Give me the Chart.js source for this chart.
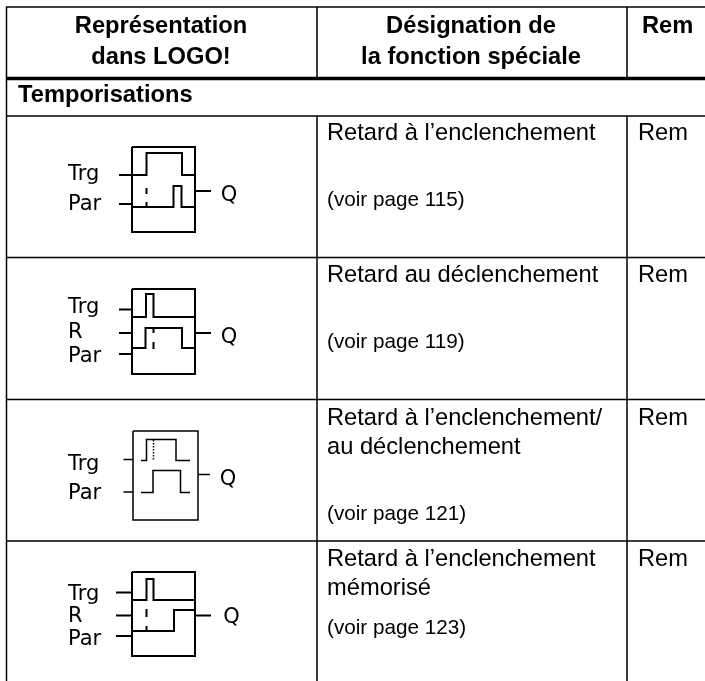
<!DOCTYPE html>
<html>
<head>
<meta charset="utf-8">
<style>
  html, body { margin: 0; padding: 0; background: #fff; }
  canvas { display: block; }
</style>
<script src="https://cdn.jsdelivr.net/npm/chart.js@4/dist/chart.umd.min.js"></script>
</head>
<body>
<canvas id="chart" width="705" height="681"></canvas>
<script>
// table texts
const headerLabels = ['Représentation', 'dans LOGO!', 'Désignation de', 'la fonction spéciale', 'Rem'];
const sectionLabel = 'Temporisations';
const functionLines = [
  ['Retard à l’enclenchement'],
  ['Retard au déclenchement'],
  ['Retard à l’enclenchement/', 'au déclenchement'],
  ['Retard à l’enclenchement', 'mémorisé']
];
const pageRefs = ['(voir page 115)', '(voir page 119)', '(voir page 121)', '(voir page 123)'];
const remLabels = ['Rem', 'Rem', 'Rem', 'Rem'];
const pinLabels = [['Trg', 'Par'], ['Trg', 'R', 'Par'], ['Trg', 'Par'], ['Trg', 'R', 'Par']];

// table rules on a 705 x 681 axis
const ruleTop = [[6, 7], [705, 7]];
const ruleHeader = [[6, 78.5], [705, 78.5]];
const ruleSection = [[6, 116], [705, 116]];
const ruleRow1 = [[6, 257.5], [705, 257.5]];
const ruleRow2 = [[6, 399.5], [705, 399.5]];
const ruleRow3 = [[6, 541], [705, 541]];
const ruleLeft = [[6.5, 7], [6.5, 681]];
const ruleCol1Head = [[317, 7], [317, 78]];
const ruleCol2Head = [[627, 7], [627, 78]];
const ruleCol1Body = [[317, 116], [317, 681]];
const ruleCol2Body = [[627, 116], [627, 681]];

// block 1
const box1 = [[132, 147], [195, 147], [195, 232], [132, 232], [132, 147]];
const stub1Trg = [[119, 175], [132, 175]];
const stub1Par = [[119, 204], [132, 204]];
const stub1Q = [[195, 191], [211, 191]];
const wave1Trg = [[132, 175], [146.5, 175], [146.5, 153], [182, 153], [182, 175], [195, 175]];
const wave1Par = [[132, 207], [173.5, 207], [173.5, 186], [181.5, 186], [181.5, 207], [195, 207]];
const dash1a = [[146.5, 188], [146.5, 194]];
const dash1b = [[146.5, 202], [146.5, 207]];

// block 2
const box2 = [[132, 289], [195, 289], [195, 374], [132, 374], [132, 289]];
const stub2Trg = [[119, 309.5], [132, 309.5]];
const stub2R = [[119, 333], [132, 333]];
const stub2Par = [[119, 354], [132, 354]];
const stub2Q = [[195, 333], [211, 333]];
const wave2Trg = [[132, 317], [146, 317], [146, 294], [153.5, 294], [153.5, 317], [195, 317]];
const wave2Par = [[132, 348], [145.5, 348], [145.5, 328], [182, 328], [182, 348], [195, 348]];
const dash2a = [[153.5, 328], [153.5, 333]];
const dash2b = [[153.5, 342], [153.5, 349]];

// block 3
const box3 = [[133, 431], [198, 431], [198, 520], [133, 520], [133, 431]];
const stub3Trg = [[123.5, 459.5], [133, 459.5]];
const stub3Par = [[123.5, 492], [133, 492]];
const stub3Q = [[198, 474.5], [210, 474.5]];
const wave3Trg = [[141, 460.5], [146.5, 460.5], [146.5, 439.5], [176, 439.5], [176, 460.5], [190, 460.5]];
const wave3Par = [[141, 492.5], [153, 492.5], [153, 470.5], [180.5, 470.5], [180.5, 492.5], [190, 492.5]];
const dots3 = [[153.5, 440], [153.5, 460]];

// block 4
const box4 = [[132, 572], [195, 572], [195, 656], [132, 656], [132, 572]];
const stub4Trg = [[116, 592.5], [132, 592.5]];
const stub4R = [[116, 615.5], [132, 615.5]];
const stub4Par = [[116, 636], [132, 636]];
const stub4Q = [[195, 615.5], [211, 615.5]];
const wave4Trg = [[132, 600], [146.5, 600], [146.5, 579], [153.5, 579], [153.5, 600], [195, 600]];
const wave4Par = [[132, 631], [174, 631], [174, 610], [195, 610]];
const dash4a = [[146.5, 609], [146.5, 617]];
const dash4b = [[146.5, 626], [146.5, 631]];

const toPoints = arr => arr.map(p => ({ x: p[0], y: p[1] }));
const line = (arr, width, dash) => ({
  data: toPoints(arr),
  showLine: true,
  borderColor: '#000',
  borderWidth: width,
  borderDash: dash || [],
  pointRadius: 0,
  tension: 0,
  fill: false,
  clip: false
});

const ruleLines = [ruleTop, ruleRow1, ruleRow2, ruleRow3, ruleSection, ruleLeft,
  ruleCol1Head, ruleCol2Head, ruleCol1Body, ruleCol2Body];
const heavyLines = [box1, stub1Trg, stub1Par, stub1Q, wave1Trg, wave1Par, dash1a, dash1b,
  box2, stub2Trg, stub2R, stub2Par, stub2Q, wave2Trg, wave2Par, dash2a, dash2b,
  box4, stub4Trg, stub4R, stub4Par, stub4Q, wave4Trg, wave4Par, dash4a, dash4b];
const thinLines = [box3, stub3Trg, stub3Par, stub3Q, wave3Trg, wave3Par];

const datasets = [
  ...ruleLines.map(a => line(a, 1.5)),
  line(ruleHeader, 3.5),
  ...heavyLines.map(a => line(a, 2)),
  ...thinLines.map(a => line(a, 1.5)),
  line(dots3, 1.5, [1.5, 1.5])
];

// all the table text goes on the canvas through the chart's scales
const tableText = {
  id: 'tableText',
  afterDatasetsDraw(chart) {
    const { ctx, scales: { x, y } } = chart;
    const put = (text, px, py, font, align) => {
      ctx.font = font;
      ctx.textAlign = align || 'left';
      ctx.textBaseline = 'alphabetic';
      ctx.fillStyle = '#000';
      ctx.fillText(text, x.getPixelForValue(px), y.getPixelForValue(py));
    };
    const bold = 'bold 23.7px "Liberation Sans"';
    const plain = '23.7px "Liberation Sans"';
    const small = '20.7px "Liberation Sans"';
    const pin = '21px "DejaVu Sans"';

    put(headerLabels[0], 161, 32.5, bold, 'center');
    put(headerLabels[1], 161, 63.5, bold, 'center');
    put(headerLabels[2], 471, 32.5, bold, 'center');
    put(headerLabels[3], 471, 63.5, bold, 'center');
    put(headerLabels[4], 642, 32.5, bold);
    put(sectionLabel, 18, 101.5, bold);

    const nameY = [[139.5], [281.5], [424.5, 454], [566, 595]];
    const refY = [206, 348, 519.5, 633.5];
    const remY = [139.5, 281.5, 424.5, 566];
    functionLines.forEach((lines, i) => {
      lines.forEach((txt, j) => put(txt, 327, nameY[i][j], plain));
      put(pageRefs[i], 327, refY[i], small);
      put(remLabels[i], 638, remY[i], plain);
    });

    // the pin names are soft bitmap text in the original
    ctx.save();
    ctx.filter = 'blur(0.4px)';
    const pinY = [[180, 210], [313, 338, 362], [470, 499], [600, 622, 645]];
    pinLabels.forEach((labels, i) => {
      labels.forEach((txt, j) => put(txt, 68, pinY[i][j], pin));
    });
    const qX = [229, 229, 228, 231.5];
    const qY = [201, 343, 485, 623];
    qX.forEach((qx, i) => put('Q', qx, qY[i], pin, 'center'));
    ctx.restore();
  }
};

new Chart(document.getElementById('chart'), {
  type: 'scatter',
  data: { datasets },
  options: {
    responsive: false,
    animation: false,
    layout: { padding: 0 },
    scales: {
      x: { type: 'linear', min: 0, max: 705, display: false },
      y: { type: 'linear', min: 0, max: 681, reverse: true, display: false }
    },
    plugins: {
      legend: { display: false },
      tooltip: { enabled: false }
    }
  },
  plugins: [tableText]
});
</script>
</body>
</html>
